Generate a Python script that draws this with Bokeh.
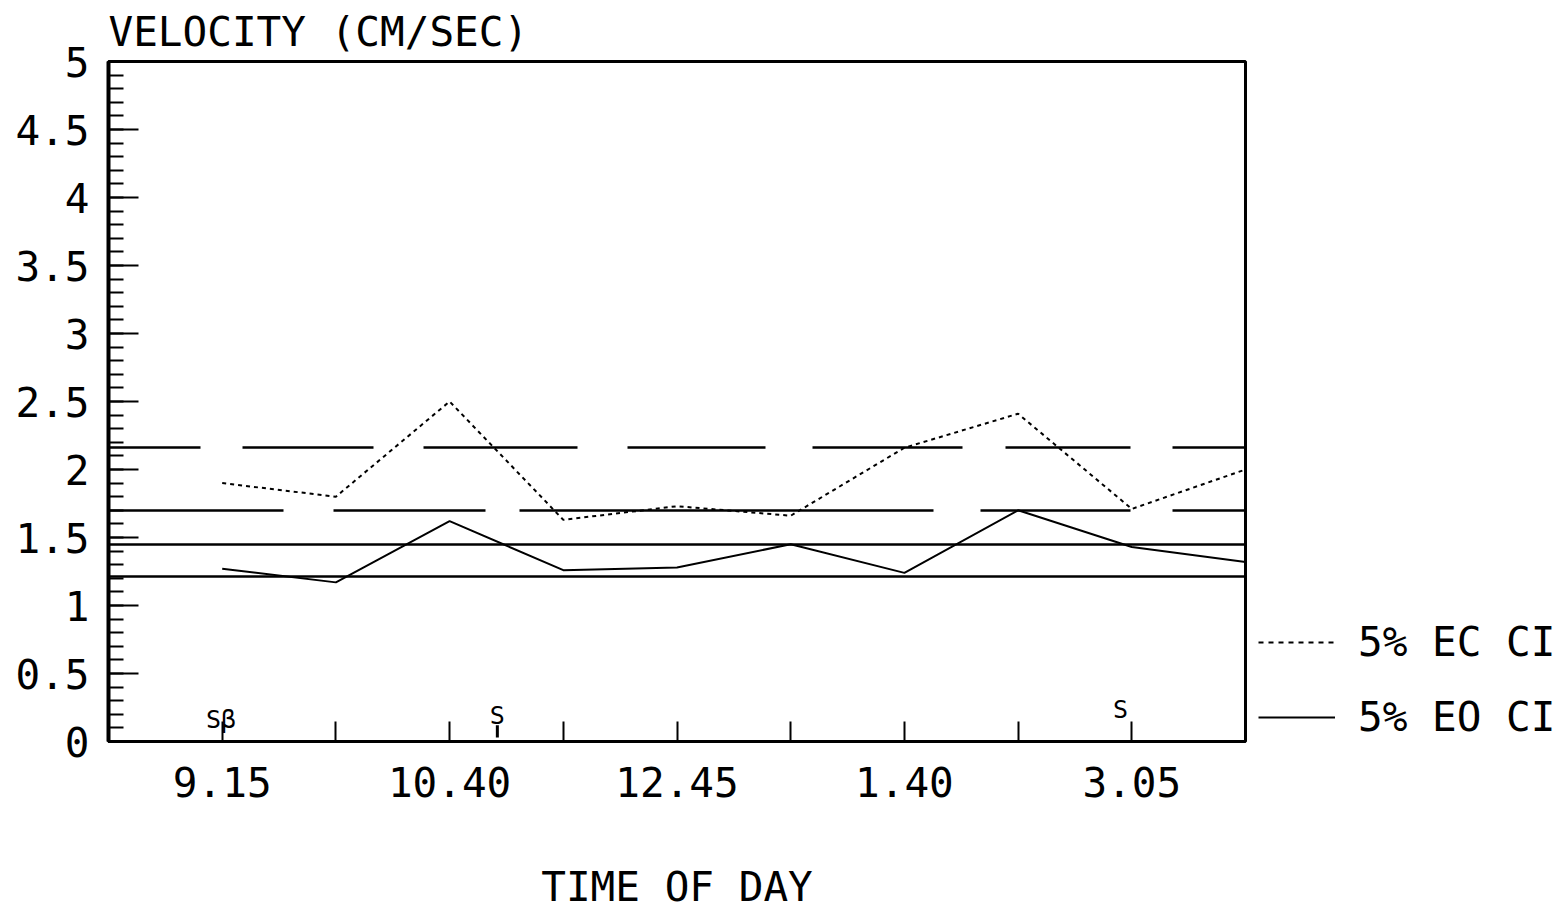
from bokeh.plotting import figure
from bokeh.layouts import row
from bokeh.models import Range1d, FixedTicker, SingleIntervalTicker, Legend, LegendItem, ColumnDataSource
from bokeh.core.properties import value
from bokeh.embed import file_html
from bokeh.resources import INLINE

# ---- data ----
x_pos = [1, 2, 3, 4, 5, 6, 7, 8, 9, 10]
ec_vel = [1.90, 1.80, 2.50, 1.63, 1.73, 1.66, 2.16, 2.41, 1.71, 2.00]
eo_vel = [1.27, 1.17, 1.62, 1.26, 1.28, 1.45, 1.24, 1.70, 1.43, 1.32]

ec_ci = [2.16, 1.70]          # long-dashed limits
eo_ci = [1.45, 1.21]          # solid limits

x_ticks = [1, 2, 3, 4, 5, 6, 7, 8, 9]
x_tick_labels = ["9.15", "", "10.40", "", "12.45", "", "1.40", "", "3.05"]
y_ticks = [0, 0.5, 1, 1.5, 2, 2.5, 3, 3.5, 4, 4.5, 5]
y_tick_labels = ["0", "0.5", "1", "1.5", "2", "2.5", "3", "3.5", "4", "4.5", "5"]

legend_labels = ["5% EC CI", "5% EO CI"]

note_x = [0.99, 3.42, 8.9]
note_y = [0.10, 0.13, 0.176]
note_text = ["Sβ", "S", "S"]
stem_x = [3.42]
stem_y0 = [0.03]
stem_y1 = [0.12]

FONT = "DejaVu Sans Mono"
DASHES = ["92 42 131 50 154 50 138 47 150 43 125 42 300",
          "175 50 152 34 414 47 150 42 300"]

p = figure(width=1247, height=913, output_backend="svg", toolbar_location=None,
           x_range=Range1d(0, 10), y_range=Range1d(0, 5),
           min_border_left=108, min_border_right=2, min_border_top=0, min_border_bottom=172)
p.background_fill_color = "white"
p.border_fill_color = "white"
p.outline_line_color = "black"
p.outline_line_width = 3
p.xgrid.visible = False
p.ygrid.visible = False

p.title.text = "VELOCITY (CM/SEC)"
p.title.text_font = FONT
p.title.text_font_size = "41px"
p.title.text_font_style = "normal"
p.title.text_color = "black"
p.title.align = "left"
p.title.standoff = 11

# axes
xa = p.xaxis[0]
xa.ticker = FixedTicker(ticks=x_ticks)
xa.major_label_overrides = {t: l for t, l in zip(x_ticks, x_tick_labels)}
xa.major_tick_in = 20
xa.major_tick_out = 0
xa.minor_tick_line_color = None
xa.major_tick_line_width = 2
xa.axis_line_width = 3
xa.major_label_text_font = FONT
xa.major_label_text_font_size = "41px"
xa.major_label_text_color = "black"
xa.major_label_standoff = 25
xa.axis_label = "TIME OF DAY"
xa.axis_label_text_font = FONT
xa.axis_label_text_font_size = "41px"
xa.axis_label_text_font_style = "normal"
xa.axis_label_text_color = "black"
xa.axis_label_text_line_height = 1.0
xa.axis_label_standoff = 63

ya = p.yaxis[0]
ya.ticker = SingleIntervalTicker(interval=0.5, num_minor_ticks=5)
ya.major_label_overrides = {t: l for t, l in zip(y_ticks, y_tick_labels)}
ya.major_tick_in = 30
ya.major_tick_out = 0
ya.minor_tick_in = 15
ya.minor_tick_out = 0
ya.major_tick_line_width = 2
ya.minor_tick_line_width = 2
ya.axis_line_width = 4
ya.major_label_text_font = FONT
ya.major_label_text_font_size = "41px"
ya.major_label_text_color = "black"
ya.major_label_standoff = 19

# CI limits
for yv, dash in zip(ec_ci, DASHES):
    p.hspan(y=[yv], line_color="black", line_width=2.5, line_dash=dash)
p.hspan(y=eo_ci, line_color="black", line_width=2.5)

# series
p.line(x_pos, ec_vel, line_color="black", line_width=2, line_dash="4 4")
p.line(x_pos, eo_vel, line_color="black", line_width=2)

# notes
src = ColumnDataSource(dict(x=note_x, y=note_y, t=note_text))
p.text(x="x", y="y", text="t", source=src, text_font=value(FONT), text_font_size="25px",
       text_align="center", text_baseline="alphabetic", text_color="black", y_offset=-8)
p.segment(x0=stem_x, y0=stem_y0, x1=stem_x, y1=stem_y1, line_color="black", line_width=3)

# legend panel on the right
q = figure(width=318, height=913, output_backend="svg", toolbar_location=None,
           x_range=Range1d(0, 1), y_range=Range1d(0, 1),
           x_axis_location=None, y_axis_location=None,
           min_border=0)
q.outline_line_color = None
q.xgrid.visible = False
q.ygrid.visible = False
l_ec = q.line([-2, -1], [-2, -2], line_color="black", line_width=2, line_dash="5 5")
l_eo = q.line([-2, -1], [-2, -2], line_color="black", line_width=2)
legend = Legend(items=[LegendItem(label=legend_labels[0], renderers=[l_ec]),
                       LegendItem(label=legend_labels[1], renderers=[l_eo])],
                location=(11, 0), orientation="vertical",
                glyph_width=77, glyph_height=48, label_height=48, label_standoff=23, spacing=27,
                padding=0, margin=0, border_line_alpha=0, background_fill_alpha=0,
                label_text_font=FONT, label_text_font_size="41px", label_text_color="black")
q.add_layout(legend, "center")

layout = row(p, q, spacing=0)
open("out.html", "w").write(file_html(layout, INLINE))
